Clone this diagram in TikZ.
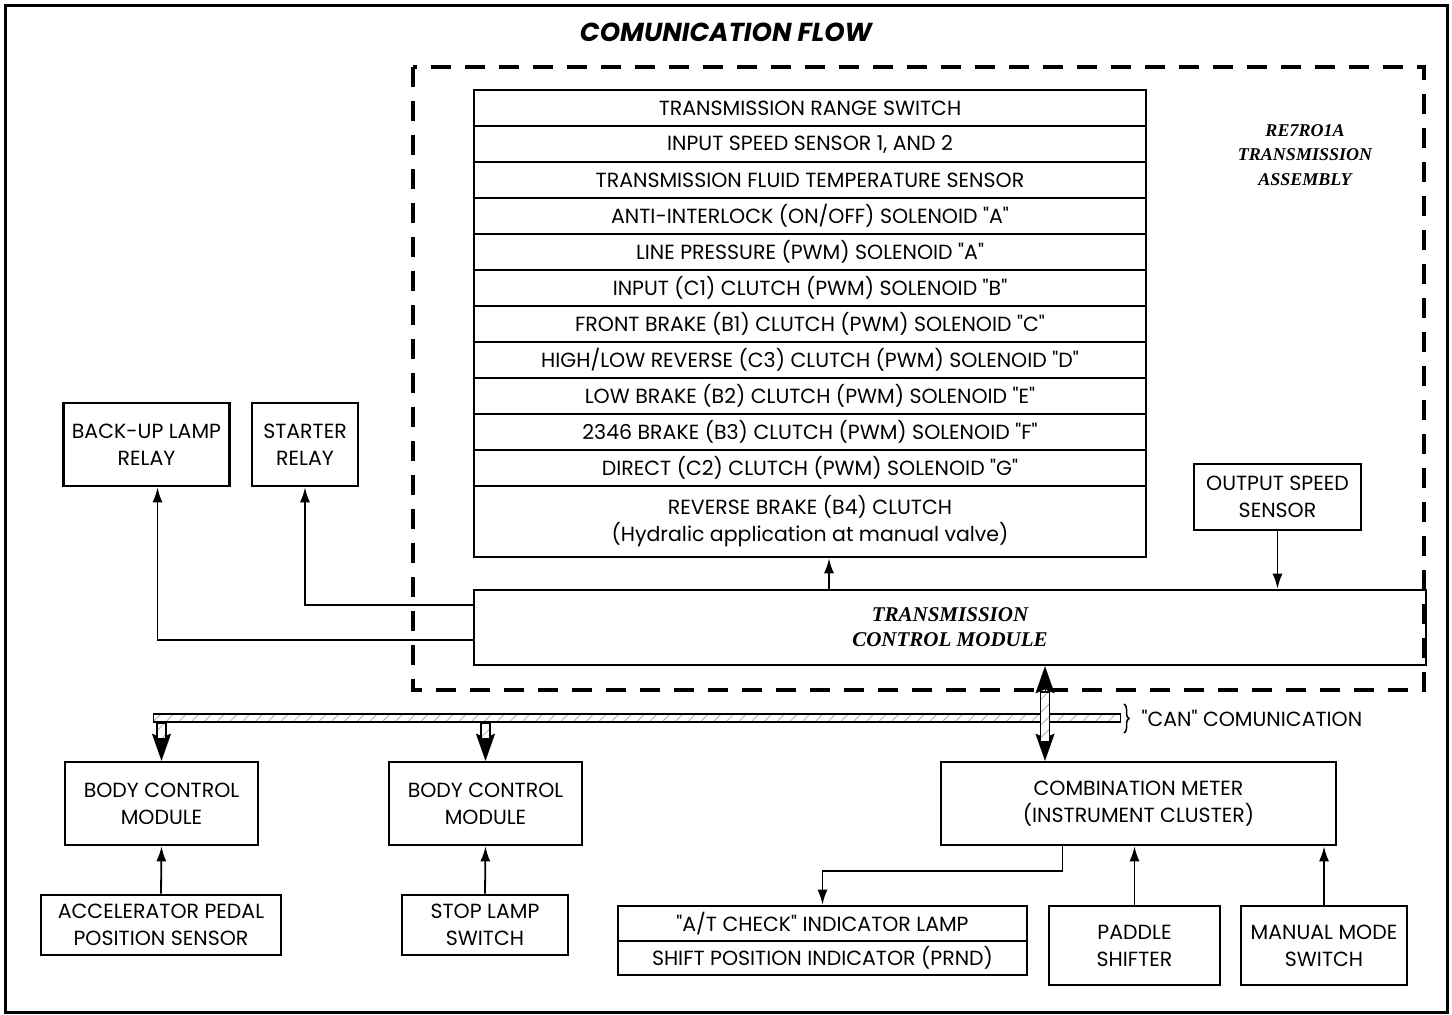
\documentclass[tikz,border=0pt]{standalone}
\usepackage{fontspec}
\newfontfamily\gothic{Poppins}
\newfontfamily\serifbi{Liberation Serif}
\usetikzlibrary{arrows.meta,patterns.meta,decorations.pathreplacing}

\tikzset{
  box/.style={draw,line width=2.6pt,align=center,inner sep=0pt,font=\gothic\fontsize{20.5}{27}\selectfont},
  row/.style={box,minimum width=672pt,minimum height=36pt},
  irow/.style={box,minimum width=409pt,minimum height=35pt},
  link/.style={line width=1.8pt,-{Latex[length=15pt,width=10pt]}},
  can/.style={draw,line width=1.5pt,preaction={fill=white},pattern={Lines[angle=45,distance=9pt,line width=0.7pt]},pattern color=gray!70,inner sep=0pt},
  canhead/.style={line width=0.1pt,-{Stealth[length=27pt,width=19pt,inset=4pt]}}
}

\begin{document}
\begin{tikzpicture}[x=1pt,y=-1pt]
  \useasboundingbox (0,0) rectangle (1452,1015);
  \draw[line width=3pt] (5,5) rectangle (1447,1012);

  % title and transmission assembly
  \node[font=\gothic\fontsize{26}{30}\selectfont\bfseries\itshape] at (726,32) (title) {COMUNICATION FLOW};
  \draw[line width=3.5pt,dash pattern=on 20pt off 14pt] (413,67) rectangle (1424,690);
  \node[align=center,font=\serifbi\bfseries\itshape\fontsize{18}{24.5}\selectfont] at (1305,155) (asm) {RE7RO1A\\TRANSMISSION\\ASSEMBLY};

  \node[row] at (810,108) (r1) {TRANSMISSION RANGE SWITCH};
  \node[row] at (810,144) (r2) {INPUT SPEED SENSOR 1, AND 2};
  \node[row] at (810,180) (r3) {TRANSMISSION FLUID TEMPERATURE SENSOR};
  \node[row] at (810,216) (r4) {ANTI-INTERLOCK (ON/OFF) SOLENOID "A"};
  \node[row] at (810,252) (r5) {LINE PRESSURE (PWM) SOLENOID "A"};
  \node[row] at (810,288) (r6) {INPUT (C1) CLUTCH (PWM) SOLENOID "B"};
  \node[row] at (810,324) (r7) {FRONT BRAKE (B1) CLUTCH (PWM) SOLENOID "C"};
  \node[row] at (810,360) (r8) {HIGH/LOW REVERSE (C3) CLUTCH (PWM) SOLENOID "D"};
  \node[row] at (810,396) (r9) {LOW BRAKE (B2) CLUTCH (PWM) SOLENOID "E"};
  \node[row] at (810,432) (r10) {2346 BRAKE (B3) CLUTCH (PWM) SOLENOID "F"};
  \node[row] at (810,468) (r11) {DIRECT (C2) CLUTCH (PWM) SOLENOID "G"};
  \node[row,minimum height=71pt] at (810,521.5) (r12) {REVERSE BRAKE (B4) CLUTCH\\(Hydralic application at manual valve)};

  \node[box,minimum width=952pt,minimum height=75pt,font=\serifbi\bfseries\itshape\fontsize{21}{25}\selectfont] at (950,627.5) (tcm) {TRANSMISSION\\CONTROL MODULE};
  \node[box,minimum width=167pt,minimum height=66pt] at (1277.5,497) (oss) {OUTPUT SPEED\\SENSOR};

  \node[box,minimum width=166pt,minimum height=83pt] at (146.5,444.5) (backup) {BACK-UP LAMP\\RELAY};
  \node[box,minimum width=106pt,minimum height=83pt] at (305,444.5) (starter) {STARTER\\RELAY};

  % can bus
  \node[can,minimum width=967pt,minimum height=8pt,anchor=west] at (153,718) (bus) {};
  \draw[line width=1.5pt,decorate,decoration={brace,amplitude=5pt}] (1124,704) -- (1124,733);
  \node[anchor=west,font=\gothic\fontsize{20.5}{24}\selectfont] at (1138,718) (canlbl) {"CAN" COMUNICATION};

  \node[box,minimum width=193pt,minimum height=83pt] at (161.5,803.5) (bcmA) {BODY CONTROL\\MODULE};
  \node[box,minimum width=193pt,minimum height=83pt] at (485.5,803.5) (bcmB) {BODY CONTROL\\MODULE};
  \node[box,minimum width=395pt,minimum height=83pt] at (1138.5,803.5) (meter) {COMBINATION METER\\(INSTRUMENT CLUSTER)};

  \node[box,minimum width=240pt,minimum height=60pt] at (161,925) (app) {ACCELERATOR PEDAL\\POSITION SENSOR};
  \node[box,minimum width=166pt,minimum height=60pt] at (485,925) (stop) {STOP LAMP\\SWITCH};
  \node[irow] at (822.5,923.5) (lamp) {"A/T CHECK" INDICATOR LAMP};
  \node[irow,minimum height=34pt] at (822.5,958) (prnd) {SHIFT POSITION INDICATOR (PRND)};
  \node[box,minimum width=171pt,minimum height=79pt] at (1134.5,945.5) (paddle) {PADDLE\\SHIFTER};
  \node[box,minimum width=166pt,minimum height=79pt] at (1324,945.5) (manual) {MANUAL MODE\\SWITCH};

  % connectors
  \draw[link] ([xshift=-121pt]tcm.north) -- ([xshift=-121pt]tcm.north |- r12.south);
  \draw[link] (oss.south) -- (oss.south |- tcm.north);
  \draw[link] ([yshift=22.5pt]tcm.west) -| (starter.south);
  \draw[link] ([yshift=-12.5pt]tcm.west) -| ([xshift=11pt]backup.south);
  \draw[link] (app.north) -- (bcmA.south);
  \draw[link] (stop.north) -- (bcmB.south);
  \draw[link] (paddle.north) -- (paddle.north |- meter.south);
  \draw[link] (manual.north) -- (manual.north |- meter.south);
  \draw[link] ([xshift=-76pt]meter.south) -- ++(0,-25pt) -| (lamp.north);

  % can drops
  \draw[canhead] (bcmA.north |- bus.south) -- (bcmA.north);
  \node[can,minimum width=9pt,minimum height=16pt,anchor=north] at (bcmA.north |- bus.south) (dropA) {};
  \draw[canhead] (bcmB.north |- bus.south) -- (bcmB.north);
  \node[can,minimum width=9pt,minimum height=16pt,anchor=north] at (bcmB.north |- bus.south) (dropB) {};
  \draw[canhead] (1045,718) -- (1045,665 |- tcm.south);
  \draw[canhead] (1045,718) -- (1045,762 |- meter.north);
  \node[can,minimum width=9pt,minimum height=50pt] at (1045,717) (dropC) {};
\end{tikzpicture}
\end{document}
